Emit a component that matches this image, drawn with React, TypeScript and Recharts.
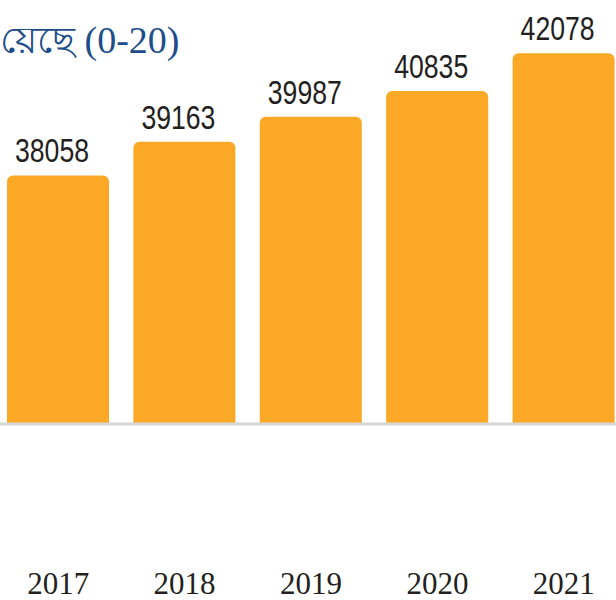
import { Bar, BarChart, LabelList, XAxis, YAxis } from "recharts";

const years = ["2017", "2018", "2019", "2020", "2021"];
const counts = [38058, 39163, 39987, 40835, 42078];
const title = "য়েছে (0-20)";

const data = years.map((year, i) => ({ year, count: counts[i] }));

function YearTick({ x, payload }: any) {
  return (
    <text x={x} y={594} textAnchor="middle" fill="#231f20" fontSize={31} fontFamily="'Liberation Serif', 'Times New Roman', serif">
      {payload.value}
    </text>
  );
}

function CountLabel({ x, y, width, value }: any) {
  return (
    <text
      x={x + width / 2 - 6}
      y={y - 13}
      textAnchor="middle"
      fill="#231f20"
      fontSize={33}
      fontFamily="'Liberation Sans', Arial, sans-serif"
      textLength={74}
      lengthAdjust="spacingAndGlyphs"
    >
      {value}
    </text>
  );
}

export default function App() {
  return (
    <div style={{ position: "fixed", left: 0, top: 0, width: 616, height: 600, overflow: "hidden", background: "#fff" }}>
      <svg width={616} height={80} style={{ position: "absolute", left: 0, top: 0 }}>
        <text x={0} y={53} fill="#1d4e89" fontSize={38} fontFamily="'Liberation Serif', serif">
          {title}
        </text>
      </svg>
      <div style={{ position: "absolute", left: -5, top: 0 }}>
        <BarChart width={632} height={600} data={data} margin={{ top: 20, right: 0, bottom: 146, left: 0 }}>
          <XAxis dataKey="year" height={30} axisLine={{ stroke: "#d6d6d6", strokeWidth: 3 }} tickLine={false} tick={<YearTick />} interval={0} />
          <YAxis hide type="number" domain={[29882, 43171]} allowDataOverflow />
          <Bar dataKey="count" fill="#faa825" barSize={102} radius={[6, 6, 0, 0]} isAnimationActive={false}>
            <LabelList dataKey="count" content={<CountLabel />} />
          </Bar>
        </BarChart>
      </div>
    </div>
  );
}
